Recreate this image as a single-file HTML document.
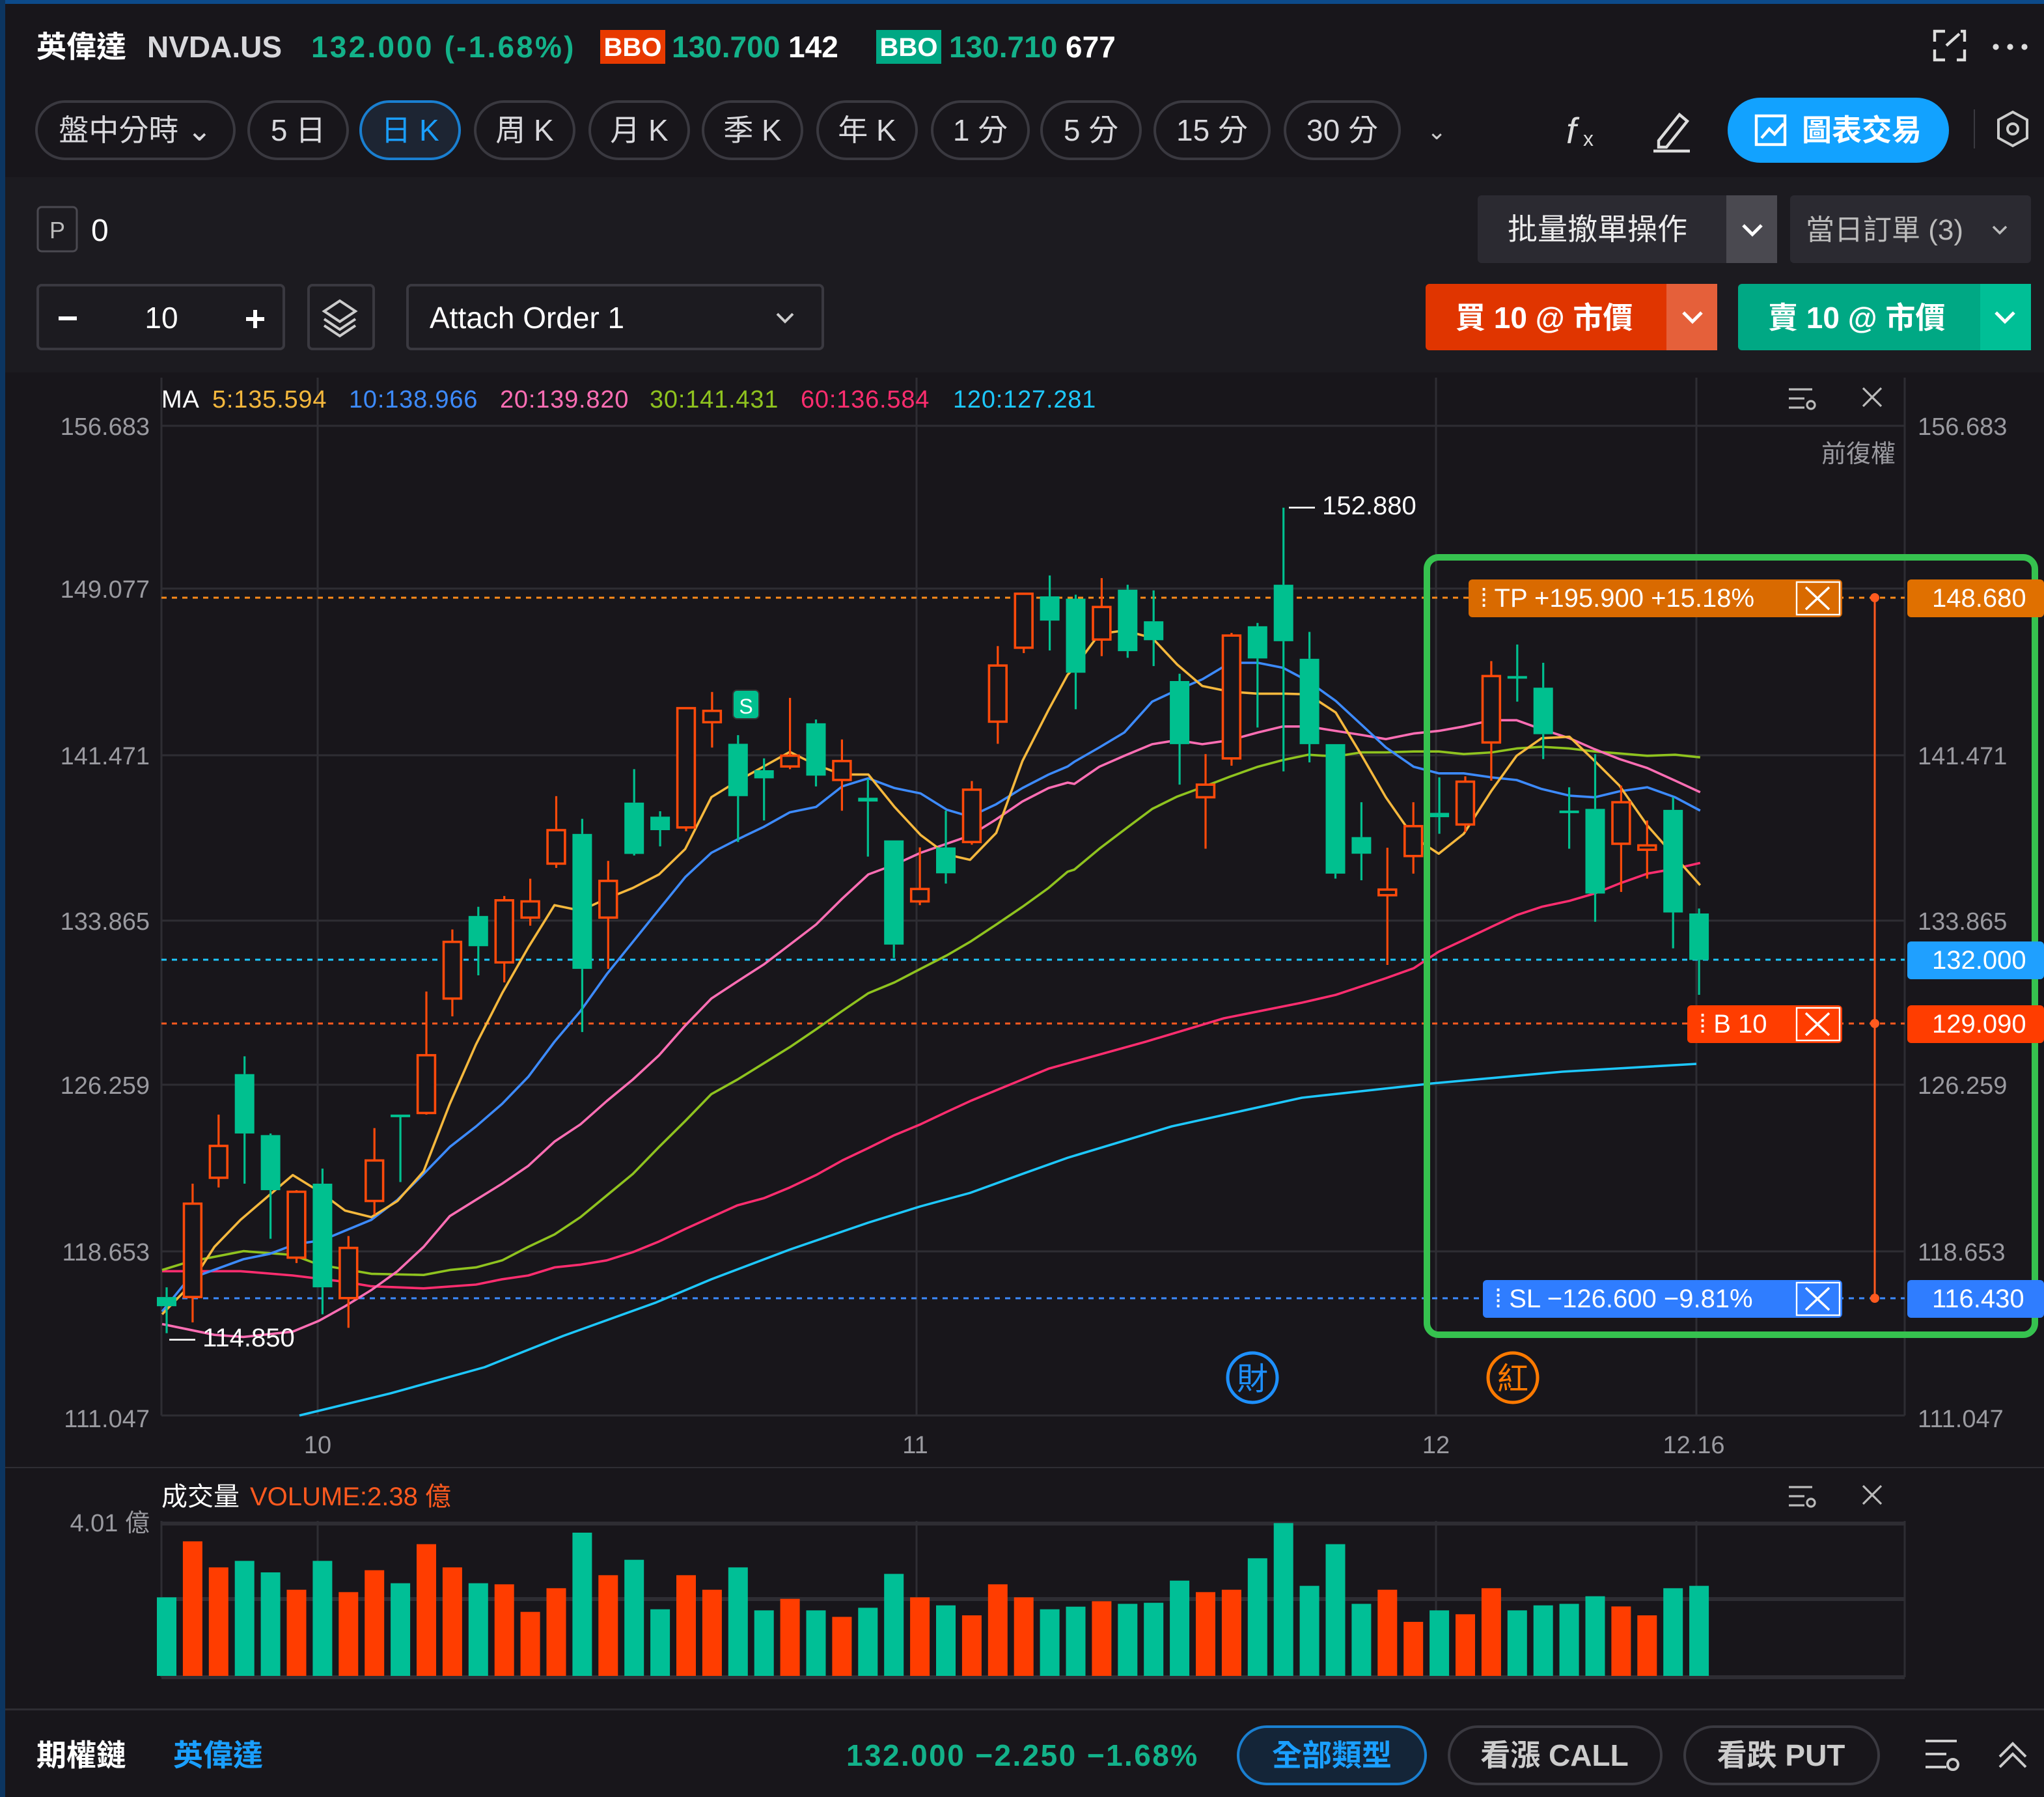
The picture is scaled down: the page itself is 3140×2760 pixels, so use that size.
<!DOCTYPE html>
<html><head><meta charset="utf-8"><style>
html,body{margin:0;padding:0;background:#18161b;overflow:hidden}
svg{display:block}
text{font-family:"Liberation Sans","Noto Sans CJK TC",sans-serif}
</style></head><body>
<svg id="s" xmlns="http://www.w3.org/2000/svg" width="3140" height="2760" viewBox="0 0 1570 1380">
<rect width="1570" height="1380" fill="#18161b"/>
<rect x="0" y="0" width="1570" height="3" fill="#0c4a8a"/>
<rect x="0" y="0" width="4" height="1380" fill="#0c3560"/>
<rect x="4" y="136" width="1566" height="150" fill="#1c1b20"/>
<!-- header -->
<text y="44" font-size="23" font-weight="bold"><tspan x="28" fill="#fff">英偉達</tspan><tspan x="113" fill="#d8d8dc">NVDA.US</tspan><tspan x="239" fill="#13b28a" letter-spacing="1.6">132.000 (-1.68%)</tspan></text>
<rect x="461" y="23" width="50" height="26" fill="#e83a00"/><text x="486" y="43" font-size="20" font-weight="bold" fill="#fff" text-anchor="middle">BBO</text>
<text x="516" y="44" font-size="23" font-weight="bold"><tspan fill="#13b28a">130.700</tspan><tspan fill="#fff"> 142</tspan></text>
<rect x="673" y="23" width="50" height="26" fill="#00a884"/><text x="698" y="43" font-size="20" font-weight="bold" fill="#fff" text-anchor="middle">BBO</text>
<text x="729" y="44" font-size="23" font-weight="bold"><tspan fill="#13b28a">130.710</tspan><tspan fill="#fff"> 677</tspan></text>
<g stroke="#ddd" stroke-width="2.2" fill="none"><path d="M1486 32v-8h8M1506 24h3v8M1486 38v8h8M1509 38v8h-6M1495 35l10-9"/></g>
<g fill="#ddd"><circle cx="1533" cy="36" r="2.3"/><circle cx="1544" cy="36" r="2.3"/><circle cx="1555" cy="36" r="2.3"/></g>
<!-- tabs -->
<g id="tabs" font-size="23" fill="#d8d8dc"></g>
<text x="1096" y="107" font-size="18" fill="#ccc">⌄</text>
<text x="1203" y="110" font-size="28" font-style="italic" fill="#ddd" font-family="Liberation Serif,serif">f</text><text x="1216" y="112" font-size="16" fill="#ddd">x</text>
<g stroke="#ddd" stroke-width="2.2" fill="none"><path d="M1274 108l16-20 6 5-16 20h-6z"/><path d="M1270 116h28"/></g>
<rect x="1327" y="75" width="170" height="50" rx="25" fill="#12a2ff"/>
<g stroke="#fff" stroke-width="2.2" fill="none"><rect x="1349" y="89" width="22" height="22"/><path d="M1353 106l6-7 4 4 7-8"/></g>
<text x="1384" y="108" font-size="23" fill="#fff" font-weight="bold">圖表交易</text>
<rect x="1516" y="84" width="1" height="30" fill="#3a3940"/>
<g stroke="#ccc" stroke-width="2" fill="none"><path d="M1546 86l11 6v14l-11 6-11-6v-14z"/><circle cx="1546" cy="99" r="4"/></g>
<!-- row3 -->
<rect x="29" y="159" width="30" height="34" rx="3" fill="none" stroke="#4a4950" stroke-width="1.5"/>
<text x="44" y="183" font-size="18" fill="#bbb" text-anchor="middle">P</text>
<text x="70" y="185" font-size="24" fill="#fff">0</text>
<rect x="1135" y="150" width="230" height="52" rx="3" fill="#2b2a31"/>
<rect x="1326" y="150" width="39" height="52" fill="#4a4950"/>
<text x="1158" y="184" font-size="23" fill="#eee">批量撤單操作</text>
<path d="M1339 173l7 7 7-7" stroke="#fff" stroke-width="2.5" fill="none"/>
<rect x="1375" y="150" width="185" height="52" rx="3" fill="#2b2a31"/>
<text x="1387" y="184" font-size="22" fill="#bbb">當日訂單 (3)</text>
<path d="M1531 174l5 5 5-5" stroke="#bbb" stroke-width="1.8" fill="none"/>
<!-- row4 -->
<rect x="29" y="219" width="189" height="49" rx="3" fill="none" stroke="#3a3940" stroke-width="2"/>
<rect x="45" y="243" width="14" height="3" fill="#fff"/>
<text x="124" y="252" font-size="23" fill="#fff" text-anchor="middle">10</text>
<path d="M189 245h14M196 238v14" stroke="#fff" stroke-width="3"/>
<rect x="237" y="219" width="50" height="49" rx="3" fill="none" stroke="#3a3940" stroke-width="2"/>
<g stroke="#ccc" stroke-width="2" fill="none"><path d="M261 231l12 8-12 8-12-8z"/><path d="M249 245l12 8 12-8"/><path d="M249 250l12 8 12-8"/></g>
<rect x="313" y="219" width="319" height="49" rx="3" fill="none" stroke="#3a3940" stroke-width="2"/>
<text x="330" y="252" font-size="23" fill="#fff">Attach Order 1</text>
<path d="M597 241l6 6 6-6" stroke="#ccc" stroke-width="2" fill="none"/>
<rect x="1095" y="218" width="224" height="51" rx="3" fill="#e03500"/>
<rect x="1280" y="218" width="39" height="51" fill="#e5603a"/>
<text x="1118" y="252" font-size="23" fill="#fff" font-weight="bold">買 10 @ 市價</text>
<path d="M1293 240l7 7 7-7" stroke="#fff" stroke-width="2.5" fill="none"/>
<rect x="1335" y="218" width="225" height="51" rx="3" fill="#00a884"/>
<rect x="1521" y="218" width="39" height="51" fill="#00bf96"/>
<text x="1358" y="252" font-size="23" fill="#fff" font-weight="bold">賣 10 @ 市價</text>
<path d="M1533 240l7 7 7-7" stroke="#fff" stroke-width="2.5" fill="none"/>
<!-- chart -->
<g id="grid" stroke="#2e2d33" stroke-width="1.5"></g>
<text y="313" font-size="19" letter-spacing="0.4"><tspan x="124" fill="#fff">MA</tspan><tspan x="163" fill="#f5b83d">5:135.594</tspan><tspan x="268" fill="#3d8bff">10:138.966</tspan><tspan x="384" fill="#ff6eb4">20:139.820</tspan><tspan x="499" fill="#8fc31f">30:141.431</tspan><tspan x="615" fill="#ff2d6f">60:136.584</tspan><tspan x="732" fill="#1ec8ff">120:127.281</tspan></text>
<g stroke="#bbb" stroke-width="1.6" fill="none"><path d="M1374 299h18M1374 306h12M1374 313h12"/><circle cx="1391" cy="311" r="3"/><path d="M1431 298l14 14M1445 298l-14 14"/></g>
<g stroke="#bbb" stroke-width="1.6" fill="none"><path d="M1374 1142h18M1374 1149h12M1374 1156h12"/><circle cx="1391" cy="1154" r="3"/><path d="M1431 1141l14 14M1445 1141l-14 14"/></g>
<text x="1456" y="355" font-size="19" fill="#9a9aa0" text-anchor="end">前復權</text>
<g id="axis" font-size="19" fill="#9a9aa0"></g>
<g id="hl"></g>
<g id="ma" fill="none" stroke-width="1.8" stroke-linejoin="round"></g>
<g id="cd"></g>
<g id="vol"></g>
<text x="990" y="395" font-size="20" fill="#fff">— 152.880</text>
<text x="130" y="1034" font-size="20" fill="#fff">— 114.850</text>
<rect x="563" y="530" width="20" height="22" rx="3" fill="#00c08f" stroke="#333" stroke-width="1"/><text x="573" y="548" font-size="16" fill="#fff" text-anchor="middle">S</text>
<circle cx="962" cy="1058" r="19" fill="none" stroke="#1e90ff" stroke-width="2.5"/><text x="962" y="1067" font-size="24" fill="#1e90ff" text-anchor="middle">財</text>
<circle cx="1162" cy="1058" r="19" fill="none" stroke="#ff7a00" stroke-width="2.5"/><text x="1162" y="1067" font-size="24" fill="#ff7a00" text-anchor="middle">紅</text>
<!-- order overlays -->
<path d="M1440 459V997" stroke="#ff5a1f" stroke-width="1.5"/>
<circle cx="1440" cy="459" r="3.5" fill="#ff5a1f"/><circle cx="1440" cy="786" r="3.5" fill="#ff5a1f"/><circle cx="1440" cy="997" r="3.5" fill="#ff5a1f"/>
<rect x="1096" y="428" width="467" height="597" rx="9" fill="none" stroke="#36c24f" stroke-width="5"/>
<rect x="1128" y="445" width="287" height="29" rx="3" fill="#d96a00"/>
<text x="1137" y="466" font-size="20" fill="#fff">⁞ TP +195.900 +15.18%</text>
<rect x="1380" y="447" width="33" height="25" fill="none" stroke="#fff" stroke-width="1.2"/><path d="M1387 451l18 17M1405 451l-18 17" stroke="#fff" stroke-width="1.8"/>
<rect x="1296" y="772" width="119" height="29" rx="3" fill="#ff3d00"/>
<text x="1305" y="793" font-size="20" fill="#fff">⁞ B 10</text>
<rect x="1380" y="774" width="33" height="25" fill="none" stroke="#fff" stroke-width="1.2"/><path d="M1387 778l18 17M1405 778l-18 17" stroke="#fff" stroke-width="1.8"/>
<rect x="1139" y="983" width="276" height="29" rx="3" fill="#2f7dff"/>
<text x="1148" y="1004" font-size="20" fill="#fff">⁞ SL −126.600 −9.81%</text>
<rect x="1380" y="985" width="33" height="25" fill="none" stroke="#fff" stroke-width="1.2"/><path d="M1387 989l18 17M1405 989l-18 17" stroke="#fff" stroke-width="1.8"/>
<rect x="1465" y="445" width="105" height="29" rx="3" fill="#e07000"/><text x="1484" y="466" font-size="20" fill="#fff">148.680</text>
<rect x="1465" y="723" width="105" height="29" rx="3" fill="#1fa0ff"/><text x="1484" y="744" font-size="20" fill="#fff">132.000</text>
<rect x="1465" y="772" width="105" height="29" rx="3" fill="#ff3d00"/><text x="1484" y="793" font-size="20" fill="#fff">129.090</text>
<rect x="1465" y="983" width="105" height="29" rx="3" fill="#2f7dff"/><text x="1484" y="1004" font-size="20" fill="#fff">116.430</text>
<!-- volume -->
<text y="1156" font-size="20"><tspan x="124" fill="#fff">成交量</tspan><tspan x="192" fill="#ff5a1f">VOLUME:2.38 億</tspan></text>
<text x="115" y="1176" font-size="19" fill="#9a9aa0" text-anchor="end">4.01 億</text>
<!-- bottom -->
<rect x="4" y="1312" width="1566" height="1.5" fill="#2e2d33"/>
<text x="28" y="1356" font-size="23" font-weight="bold" fill="#fff">期權鏈</text>
<text x="133" y="1356" font-size="23" font-weight="bold" fill="#1a9fff">英偉達</text>
<text x="650" y="1356" font-size="23" font-weight="bold" fill="#13b28a" letter-spacing="1.2">132.000 −2.250 −1.68%</text>
<rect x="951" y="1326" width="144" height="44" rx="22" fill="#142538" stroke="#1a7fd0" stroke-width="2"/><text x="1023" y="1356" font-size="23" font-weight="bold" fill="#1a9fff" text-anchor="middle">全部類型</text>
<rect x="1113" y="1326" width="163" height="44" rx="22" fill="none" stroke="#3a3940" stroke-width="2"/><text x="1194" y="1356" font-size="23" font-weight="bold" fill="#ccc" text-anchor="middle">看漲 CALL</text>
<rect x="1294" y="1326" width="149" height="44" rx="22" fill="none" stroke="#3a3940" stroke-width="2"/><text x="1368" y="1356" font-size="23" font-weight="bold" fill="#ccc" text-anchor="middle">看跌 PUT</text>
<g stroke="#ccc" stroke-width="2" fill="none"><path d="M1479 1337h24M1479 1347h16M1479 1357h16"/><circle cx="1500" cy="1355" r="4"/><path d="M1536 1349l10-10 10 10M1536 1357l10-10 10 10"/></g>
</svg>
<script>
var NS="http://www.w3.org/2000/svg";
function el(p,t,a,tx){var e=document.createElementNS(NS,t);for(var k in a)e.setAttribute(k,a[k]);if(tx!=null)e.textContent=tx;document.getElementById(p).appendChild(e);return e;}
var tabs=[["盤中分時 ⌄",28,180],["5 日",191,267],["日 K",277,353],["周 K",365,441],["月 K",453,529],["季 K",540,616],["年 K",628,704],["1 分",716,790],["5 分",800,876],["15 分",887,975],["30 分",987,1075]];
tabs.forEach(function(t,i){var a=i==2;el("tabs","rect",{x:t[1],y:78,width:t[2]-t[1],height:44,rx:22,fill:a?"#1d2533":"none",stroke:a?"#1a7fd0":"#3a3940","stroke-width":2});
el("tabs","text",{x:(t[1]+t[2])/2,y:108,"text-anchor":"middle",fill:a?"#1a9fff":"#d8d8dc"},t[0]);});
[327,452,580,707,833,961,1087].forEach(function(y,i){el("grid","line",{x1:124,x2:1463,y1:y,y2:y});});
[244,704,1103,1303].forEach(function(x){el("grid","line",{x1:x,x2:x,y1:290,y2:1087});el("grid","line",{x1:x,x2:x,y1:1168,y2:1288});});
el("grid","line",{x1:124,x2:124,y1:290,y2:1087});el("grid","line",{x1:1463,x2:1463,y1:290,y2:1087});
el("grid","line",{x1:124,x2:124,y1:1168,y2:1288});el("grid","line",{x1:1463,x2:1463,y1:1168,y2:1288});
el("grid","line",{x1:124,x2:1463,y1:1170,y2:1170,"stroke-width":3});el("grid","line",{x1:124,x2:1463,y1:1228,y2:1228,"stroke-width":3});el("grid","line",{x1:124,x2:1463,y1:1288,y2:1288,"stroke-width":3});
el("grid","line",{x1:4,x2:1570,y1:1127,y2:1127,"stroke-width":1});
var labs=["156.683","149.077","141.471","133.865","126.259","118.653","111.047"];
[327,452,580,707,833,961,1089].forEach(function(y,i){el("axis","text",{x:115,y:y+7,"text-anchor":"end"},labs[i]);el("axis","text",{x:1473,y:y+7},labs[i]);});
[["10",244],["11",703],["12",1103],["12.16",1301]].forEach(function(d){el("axis","text",{x:d[1],y:1116,"text-anchor":"middle"},d[0]);});
[[459,"#ff8c1a"],[737,"#1ec8ff"],[786,"#ff5a1f"],[997,"#3d8bff"]].forEach(function(l){el("hl","line",{x1:124,x2:1463,y1:l[0],y2:l[0],stroke:l[1],"stroke-width":1.5,"stroke-dasharray":"4 4"});});
var z2y=function(v){return 400+v*0.4145},z3y=function(v){return 370+v*0.255};
var A=[["g",1438,1455,1420,1505],["r",1265,1438,1228,1485],["r",1158,1217,1100,1235],["g",1025,1135,992,1228],["g",1138,1240,1135,1330],["r",1243,1365,1240,1375],["g",1228,1420,1200,1470],["r",1347,1440,1325,1495],["r",1185,1260,1125,1285],["g",1100,1103,1100,1225],["r",990,1097,872,1100],["r",780,885,757,918],["g",732,788,715,842],["r",703,818,695,855],["r",705,735,663,750],["r",573,635,510,643],["g",580,830,552,947],["r",667,735,630,830],["g",522,617,460,620],["g",548,573,538,603],["r",347,568,347,575],["r",352,373,317,420],["g",413,510,397,595],["g",462,477,440,555],["r",435,455,328,460],["g",375,472,368,492],["r",445,480,405,537],["g",513,520,478,622],["g",592,785,592,810],["r",682,705,605,712],["g",605,653,537,672],["r",498,595,482,600],["r",268,372,232,413],["r",135,235,135,245]];
var B=[["g",345,418,282,508],["g",352,575,340,685],["r",377,475,290,525],["g",325,510,310,530],["g",420,477,327,555],["g",600,790,578,912],["r",912,950,820,1105],["r",463,833,455,855],["g",435,532,425,740],["g",310,480,78,872],["g",533,790,452,845],["g",790,1180,790,1195],["g",1070,1120,965,1200],["r",1228,1245,1102,1455],["r",1037,1127,965,1180],["g",997,1010,890,1060],["r",903,1032,887,1055],["r",585,785,540,900],["g",585,590,490,662],["g",620,760,545,835],["g",990,993,920,1105],["g",985,1240,820,1325],["r",965,1090,915,1235],["r",1095,1108,1020,1195],["g",988,1297,950,1405],["g",1300,1440,1285,1545]];
var C=[];A.forEach(function(c){C.push([c[0],z2y(c[1]),z2y(c[2]),z2y(c[3]),z2y(c[4])]);});B.forEach(function(c){C.push([c[0],z3y(c[1]),z3y(c[2]),z3y(c[3]),z3y(c[4])]);});
C.forEach(function(c,i){var x=128+19.95*i,col=c[0]=="g"?"#00c08f":"#ff4a0a";
el("cd","line",{x1:x,x2:x,y1:c[3],y2:c[1],stroke:col,"stroke-width":1.6});el("cd","line",{x1:x,x2:x,y1:c[2],y2:c[4],stroke:col,"stroke-width":1.6});
var h=Math.max(c[2]-c[1],2);
if(c[0]=="g")el("cd","rect",{x:x-7.5,y:c[1],width:15,height:h,fill:col});
else el("cd","rect",{x:x-6.7,y:c[1],width:13.4,height:h,fill:"#18161b",stroke:col,"stroke-width":1.8});});
var V=[["g",580],["r",322],["r",442],["g",412],["g",465],["r",545],["g",412],["r",556],["r",455],["g",515],["r",335],["r",442],["g",515],["r",520],["r",647],["r",538],["g",282],["r",478],["g",407],["g",635],["r",478],["r",545],["g",442],["g",640],["r",587],["g",640],["r",670],["g",628],["g",472],["r",580],["g",617],["r",663],["r",520],["r",580],["g",635],["g",623],["r",598],["g",610],["g",605],["g",503],["r",556],["r",545],["g",400],["g",238],["g",527],["g",335],["g",610],["r",545],["r",693],["g",640],["r",658],["r",538],["g",640],["g",617],["g",610],["g",575],["r",622],["r",663],["g",538],["g",527]];
V.forEach(function(v,i){var x=128+19.95*i,y=1130+v[1]/6;el("vol","rect",{x:x-7.5,y:y,width:15,height:1287-y,fill:v[0]=="g"?"#00bf96":"#ff3d00"});});
function pts(a,f,g){return a.map(function(p){return f(p[0]).toFixed(1)+","+g(p[1]).toFixed(1);});}
var z2x=function(v){return 120+v*0.4465},z3x=function(v){return 650+v*0.4273};
function ma(a2,a3,col,extra){var p=pts(a2,z2x,z2y);if(extra)p=p.concat(extra);p=p.concat(pts(a3,z3x,z3y));
p.sort(function(a,b){return parseFloat(a)-parseFloat(b)});
el("ma","polyline",{points:p.join(" "),stroke:col});}
function uniq(a2,a3){return a3.filter(function(p){return z3x(p[0])>z2x(1568)+1;});}
var m5a=[[10,1470],[55,1420],[100,1345],[145,1295],[235,1212],[280,1242],[325,1278],[370,1290],[415,1260],[460,1205],[505,1080],[550,970],[595,875],[640,790],[685,712],[730,722],[775,700],[820,680],[865,655],[910,608],[955,512],[1000,482],[1045,455],[1090,428],[1135,452],[1180,470],[1225,470],[1270,530],[1315,582],[1360,618],[1400,628],[1445,578],[1490,445],[1535,350],[1568,285]];
var m5b=[[0,880],[35,882],[85,990],[130,1065],[175,1120],[222,1140],[268,1055],[315,840],[360,685],[410,560],[455,458],[500,448],[550,470],[595,550],[640,615],[690,632],[740,638],[790,638],[830,640],[880,695],[925,820],[970,950],[1020,1070],[1065,1120],[1110,1060],[1160,930],[1205,825],[1250,772],[1300,768],[1345,840],[1390,915],[1440,1035],[1490,1130],[1535,1215]];
var m10a=[[10,1465],[55,1405],[150,1368],[195,1358],[240,1340],[285,1333],[325,1315],[370,1295],[415,1258],[460,1210],[505,1160],[550,1122],[595,1080],[640,1030],[685,965],[730,908],[775,840],[820,780],[865,720],[910,660],[955,615],[1000,590],[1045,567],[1090,540],[1135,530],[1180,492],[1225,477],[1270,495],[1315,505],[1360,535],[1400,548],[1445,525],[1490,495],[1535,470],[1568,455]];
var m10b=[[0,905],[35,890],[85,915],[130,935],[175,985],[222,1010],[268,970],[315,915],[360,870],[410,843],[455,800],[500,755],[550,662],[595,627],[640,595],[690,545],[740,545],[785,560],[830,600],[880,660],[925,730],[970,800],[1020,858],[1065,878],[1110,878],[1160,890],[1205,898],[1250,925],[1300,945],[1345,950],[1390,932],[1440,920],[1490,950],[1535,990]];
var m20a=[[10,1488],[100,1508],[150,1512],[235,1502],[280,1482],[325,1455],[370,1425],[415,1390],[460,1345],[505,1288],[550,1258],[595,1228],[640,1195],[685,1150],[730,1118],[775,1075],[820,1035],[865,990],[910,935],[955,885],[1000,853],[1045,822],[1090,785],[1135,748],[1180,700],[1225,655],[1270,637],[1315,615],[1360,598],[1400,583],[1445,553],[1490,520],[1535,495],[1568,485]];
var m20b=[[0,1240],[35,1180],[85,1145],[130,1105],[175,1085],[222,1060],[268,1020],[315,975],[360,935],[410,910],[455,858],[500,825],[550,790],[595,778],[640,790],[690,778],[740,755],[785,737],[830,737],[880,750],[925,762],[970,775],[1020,758],[1065,750],[1110,737],[1160,718],[1205,718],[1250,745],[1300,772],[1345,805],[1390,835],[1440,862],[1490,900],[1535,935]];
var m30a=[[10,1388],[55,1373],[150,1353],[235,1360],[280,1378],[370,1395],[460,1397],[505,1388],[550,1383],[595,1370],[640,1345],[685,1322],[730,1290],[775,1250],[820,1210],[865,1160],[910,1112],[955,1062],[1000,1035],[1045,1005],[1090,975],[1135,942],[1180,908],[1225,875],[1270,855],[1315,830],[1360,805],[1400,780],[1445,748],[1490,715],[1535,680],[1568,650]];
var m30b=[[0,1555],[85,1490],[175,1425],[222,1382],[268,1335],[315,1285],[360,1230],[410,1168],[455,1105],[500,1048],[550,985],[595,948],[640,920],[690,888],[740,858],[785,838],[830,822],[880,827],[925,815],[970,815],[1020,812],[1065,812],[1110,820],[1160,815],[1205,803],[1250,798],[1300,803],[1345,812],[1390,818],[1440,825],[1490,822],[1535,830]];
var m60a=[[10,1390],[145,1390],[235,1398],[325,1410],[370,1418],[460,1422],[550,1415],[595,1405],[640,1398],[685,1383],[730,1378],[775,1370],[820,1355],[865,1335],[910,1312],[955,1290],[1000,1268],[1045,1255],[1090,1235],[1135,1212],[1180,1185],[1225,1162],[1270,1138],[1315,1118],[1360,1095],[1400,1075],[1445,1055],[1490,1035],[1535,1015],[1568,1005]];
var m60b=[[880,1545],[925,1520],[970,1495],[1020,1465],[1065,1415],[1110,1380],[1160,1340],[1205,1305],[1250,1280],[1300,1262],[1345,1240],[1390,1210],[1440,1180],[1490,1165],[1535,1148]];
function M(a2,a3,col,ex){ma(a2,uniq(a2,a3),col,ex);}
M(m60a,m60b,"#ff2d6f",["880,800","940,782","1000,770"]);
el("ma","polyline",{points:"230,1087 300,1070 "+pts([[565,1568],[700,1510],[860,1448],[955,1405],[1090,1350],[1225,1300],[1315,1270],[1400,1245],[1490,1210],[1568,1180]],z2x,z2y).join(" ")+" 900,865 1000,843 1100,832 1200,823 1303,817",stroke:"#1ec8ff"});
M(m30a,m30b,"#8fc31f");
M(m20a,m20b,"#ff6eb4");
M(m10a,m10b,"#3d8bff");
M(m5a,m5b,"#f5b83d");
var s=document.getElementById("s");s.insertBefore(document.getElementById("ma"),document.getElementById("cd"));
</script>
</body></html>
